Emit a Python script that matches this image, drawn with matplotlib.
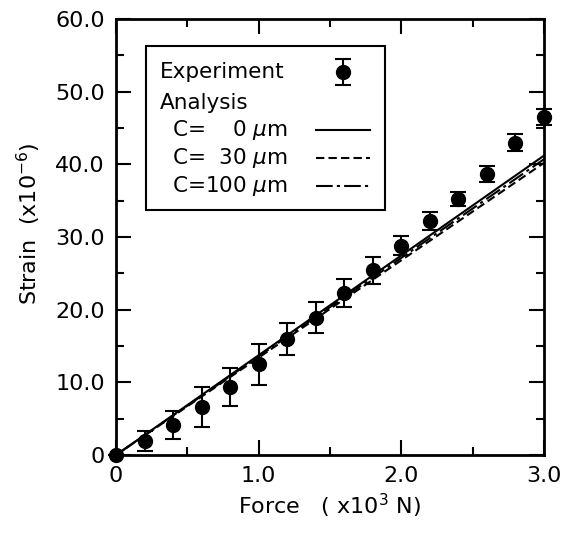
import numpy as np
import matplotlib
matplotlib.use("Agg")
import matplotlib.pyplot as plt
from matplotlib.patches import Rectangle
from matplotlib.ticker import MultipleLocator, FuncFormatter

# experiment data (force x10^3 N, strain x10^-6)
force = [0.0, 0.2, 0.4, 0.6, 0.8, 1.0, 1.2, 1.4, 1.6, 1.8, 2.0, 2.2, 2.4, 2.6, 2.8, 3.0]
strain = [0.0, 1.9, 4.1, 6.6, 9.4, 12.5, 16.0, 18.9, 22.3, 25.4, 28.8, 32.2, 35.2, 38.7, 43.0, 46.5]
strain_err = [0.0, 1.4, 1.9, 2.7, 2.6, 2.8, 2.2, 2.1, 1.9, 1.8, 1.3, 1.2, 1.0, 1.1, 1.2, 1.1]

# analysis lines
line_force = [0.0, 3.0]
c0_strain = [0.0, 41.2]
c30_strain = [0.0, 40.2]
c100_strain = [0.0, 40.7]

legend_labels = [r'C=    0 $\mu$m', r'C=  30 $\mu$m', r'C=100 $\mu$m']

plt.rcParams['font.family'] = 'DejaVu Sans'
plt.rcParams['mathtext.fontset'] = 'dejavusans'

fig = plt.figure(figsize=(5.74, 5.35), dpi=100)
ax = fig.add_axes([0.2021, 0.1495, 0.7456, 0.9645 - 0.1495])

dash30 = (0, (4, 2))
dash100 = (0, (8, 2, 1.5, 2))
ax.plot(line_force, c0_strain, color='black', lw=1.5, ls='-')
ax.plot(line_force, c30_strain, color='black', lw=1.5, ls=dash30)
ax.plot(line_force, c100_strain, color='black', lw=1.5, ls=dash100)

ax.errorbar(force, strain, yerr=strain_err, fmt='o', color='black',
            ms=10, capsize=5.5, elinewidth=1.5, capthick=1.5, clip_on=False, zorder=5)

ax.set_xlim(0, 3.0)
ax.set_ylim(0, 60)
ax.xaxis.set_major_locator(MultipleLocator(1.0))
ax.xaxis.set_minor_locator(MultipleLocator(0.5))
ax.yaxis.set_major_locator(MultipleLocator(10))
ax.yaxis.set_minor_locator(MultipleLocator(5))
fmt = FuncFormatter(lambda v, p: '0' if v == 0 else '%.1f' % v)
ax.xaxis.set_major_formatter(fmt)
ax.yaxis.set_major_formatter(fmt)
ax.tick_params(which='both', direction='in', top=True, right=True, labelsize=16, width=1.5)
ax.tick_params(which='major', length=11, pad=8)
ax.tick_params(which='minor', length=6)
for s in ax.spines.values():
    s.set_linewidth(2)

ax.set_xlabel(r'Force   ( x10$^3$ N)', fontsize=16, labelpad=4)
ax.set_ylabel(r'Strain  (x10$^{-6}$)', fontsize=16)
ax.yaxis.set_label_coords(-0.17, 0.53)

# hand-made legend box
T = ax.transAxes
ax.add_patch(Rectangle((0.070, 0.562), 0.558, 0.376, transform=T, fill=False,
                       edgecolor='black', lw=1.5, zorder=6))
ax.text(0.103, 0.878, 'Experiment', transform=T, fontsize=15.5, va='center', zorder=7)
ax.errorbar([0.530], [0.878], yerr=[0.03], transform=T, fmt='o', color='black',
            ms=10, capsize=5.5, elinewidth=1.5, capthick=1.5, zorder=7)
ax.text(0.103, 0.807, 'Analysis', transform=T, fontsize=15.5, va='center', zorder=7)
row_y = [0.745, 0.681, 0.617]
styles = ['-', dash30, dash100]
for yy, lab, st in zip(row_y, legend_labels, styles):
    ax.text(0.131, yy, lab, transform=T, fontsize=15.5, va='center', zorder=7)
    ax.plot([0.467, 0.593], [yy, yy], transform=T, color='black', lw=1.5, ls=st, zorder=7)

fig.savefig('out.png', dpi=100)
